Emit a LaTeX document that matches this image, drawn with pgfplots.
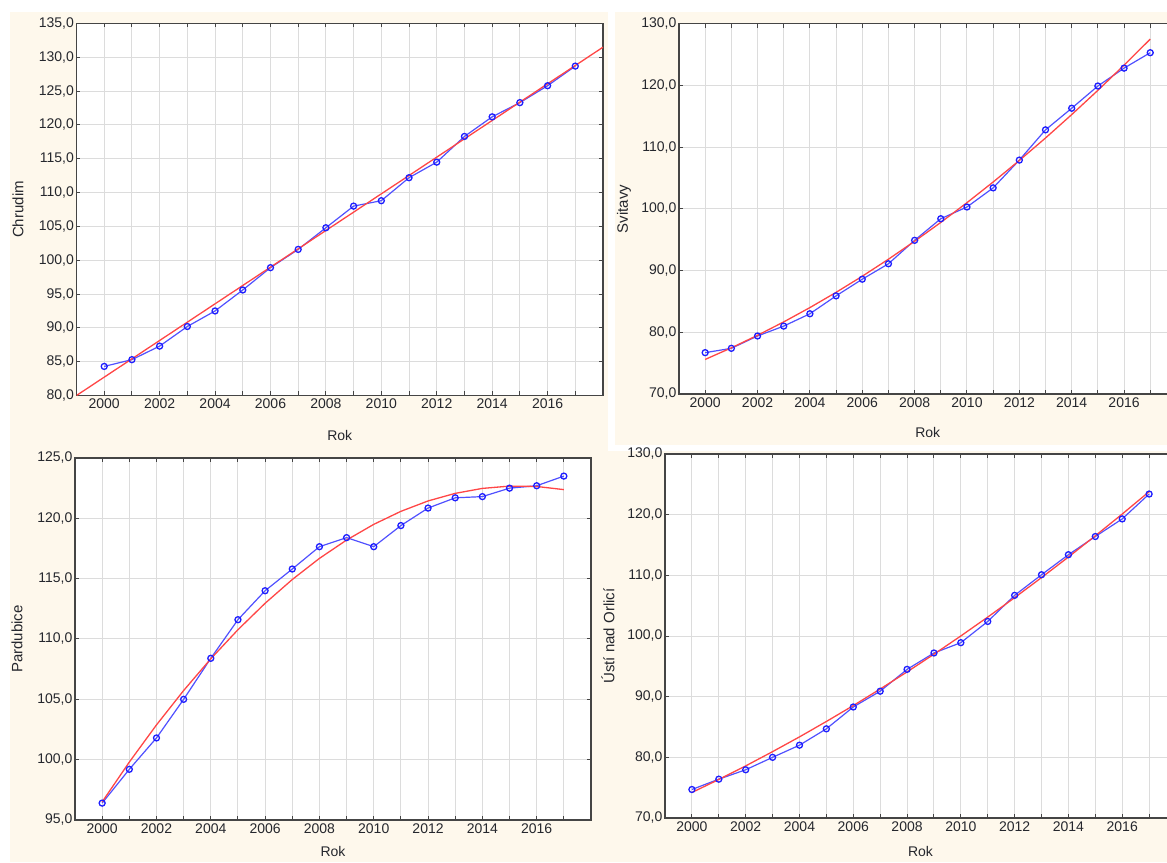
\documentclass[border=0pt]{standalone}
\usepackage{fontspec}
\setmainfont{Liberation Sans}
\usepackage{pgfplots}
\pgfplotsset{compat=1.18}
\definecolor{cream}{HTML}{FEF8EC}
\definecolor{gridc}{HTML}{DCDCDC}
\definecolor{framec}{HTML}{454545}
\definecolor{textc}{HTML}{25272D}
\definecolor{bluel}{HTML}{5050FF}
\definecolor{bluem}{HTML}{1E1EFF}
\definecolor{redl}{HTML}{FF4646}
\pgfplotsset{
  panel/.style={
    scale only axis,
    xmin=1999, xmax=2018,
    xtick={2000,2002,...,2016},
    minor xtick={2001,2003,...,2017},
    grid=both,
    major grid style={draw=gridc, line width=1pt},
    minor grid style={draw=gridc, line width=1pt},
    tick align=inside,
    major tick length=4pt, minor tick length=4pt,
    tick style={draw=framec, line width=1pt},
    axis line style={draw=framec, line width=1.6pt},
    axis background/.style={fill=white},
    /pgf/number format/assume math mode=true,
    tick label style={font=\fontsize{14}{16}\selectfont, text=textc},
    label style={font=\fontsize{14}{16}\selectfont, text=textc},
    xticklabel style={/pgf/number format/.cd,1000 sep={}},
    yticklabel style={inner sep=2.5pt, /pgf/number format/.cd,fixed,fixed zerofill,precision=1,use comma,1000 sep={}},
  },
  ylab/.style={ylabel style={font=\fontsize{15}{18}\selectfont, text=textc, at={(axis description cs:#1,0.5)}, anchor=center}},
  xlab/.style={xlabel style={at={(axis description cs:0.5,#1)}, anchor=center}},
  dat/.style={draw=bluel, line width=1.2pt, mark=o, mark size=3pt, mark options={draw=bluem, line width=1.3pt, solid}},
  fit/.style={draw=redl, line width=1.3pt, no marks},
}
\begin{document}
\begin{tikzpicture}
\useasboundingbox (0pt,0pt) rectangle (1167pt,862pt);
\clip (0pt,0pt) rectangle (1167pt,862pt);
\fill[white] (0pt,0pt) rectangle (1167pt,862pt);
\fill[cream] (10pt,0pt) rectangle (608pt,850pt);
\fill[cream] (615pt,417pt) rectangle (1167pt,850pt);
\fill[cream] (596pt,0pt) rectangle (1167pt,411pt);

% Top left: Chrudim
\begin{axis}[panel, at={(76.5pt,466.5pt)}, anchor=south west,
  width=526.5pt, height=372pt,
  ymin=80, ymax=135, ytick={80,85,...,135},
  ylabel={Chrudim}, xlabel={Rok}, ylab=-0.111, xlab=-0.108]
\addplot[dat] coordinates {
(2000,84.3) (2001,85.3) (2002,87.3) (2003,90.2) (2004,92.5) (2005,95.6)
(2006,98.9) (2007,101.6) (2008,104.8) (2009,108.0) (2010,108.8) (2011,112.2)
(2012,114.5) (2013,118.3) (2014,121.2) (2015,123.3) (2016,125.8) (2017,128.7)};
\addplot[fit] coordinates {(1999,80.0) (2018,131.5)};
\end{axis}

% Top right: Svitavy
\begin{axis}[panel, at={(679pt,468pt)}, anchor=south west,
  width=497.4pt, height=370.3pt,
  ymin=70, ymax=130, ytick={70,80,...,130},
  ylabel={Svitavy}, xlabel={Rok}, ylab=-0.1106, xlab=-0.105]
\addplot[dat] coordinates {
(2000,76.7) (2001,77.4) (2002,79.4) (2003,81.0) (2004,83.0) (2005,85.9)
(2006,88.6) (2007,91.1) (2008,94.9) (2009,98.4) (2010,100.3) (2011,103.4)
(2012,107.9) (2013,112.8) (2014,116.3) (2015,119.9) (2016,122.8) (2017,125.3)};
\addplot[fit] coordinates {
(2000,75.6) (2001,77.48) (2002,79.51) (2003,81.68) (2004,84.00) (2005,86.47)
(2006,89.08) (2007,91.84) (2008,94.75) (2009,97.80) (2010,101.00) (2011,104.35)
(2012,107.84) (2013,111.48) (2014,115.27) (2015,119.20) (2016,123.28) (2017,127.50)};
\end{axis}

% Bottom left: Pardubice
\begin{axis}[panel, at={(75pt,42pt)}, anchor=south west,
  width=516pt, height=362pt,
  ymin=95, ymax=125, ytick={95,100,...,125},
  ylabel={Pardubice}, xlabel={Rok}, ylab=-0.1124, xlab=-0.088]
\addplot[dat] coordinates {
(2000,96.4) (2001,99.2) (2002,101.8) (2003,105.0) (2004,108.4) (2005,111.6)
(2006,114.0) (2007,115.8) (2008,117.65) (2009,118.4) (2010,117.65) (2011,119.4)
(2012,120.85) (2013,121.7) (2014,121.8) (2015,122.5) (2016,122.7) (2017,123.5)};
\addplot[fit] coordinates {
(2000,96.50) (2001,99.80) (2002,102.88) (2003,105.73) (2004,108.36) (2005,110.77)
(2006,112.96) (2007,114.93) (2008,116.68) (2009,118.20) (2010,119.50) (2011,120.58)
(2012,121.44) (2013,122.07) (2014,122.48) (2015,122.67) (2016,122.64) (2017,122.38)};
\end{axis}

% Bottom right: Usti nad Orlici
\begin{axis}[panel, at={(665pt,44pt)}, anchor=south west,
  width=511pt, height=364pt,
  ymin=70, ymax=130, ytick={70,80,...,130},
  ylabel={Ústí nad Orlicí}, xlabel={Rok}, ylab=-0.1115, xlab=-0.093]
\addplot[dat] coordinates {
(2000,74.7) (2001,76.4) (2002,77.95) (2003,80.0) (2004,82.0) (2005,84.7)
(2006,88.3) (2007,90.9) (2008,94.5) (2009,97.2) (2010,98.9) (2011,102.4)
(2012,106.7) (2013,110.1) (2014,113.4) (2015,116.4) (2016,119.3) (2017,123.4)};
\addplot[fit] coordinates {
(2000,74.20) (2001,76.35) (2002,78.59) (2003,80.94) (2004,83.37) (2005,85.91)
(2006,88.53) (2007,91.26) (2008,94.08) (2009,97.00) (2010,100.01) (2011,103.12)
(2012,106.32) (2013,109.63) (2014,113.02) (2015,116.52) (2016,120.10) (2017,123.79)};
\end{axis}
\end{tikzpicture}
\end{document}
